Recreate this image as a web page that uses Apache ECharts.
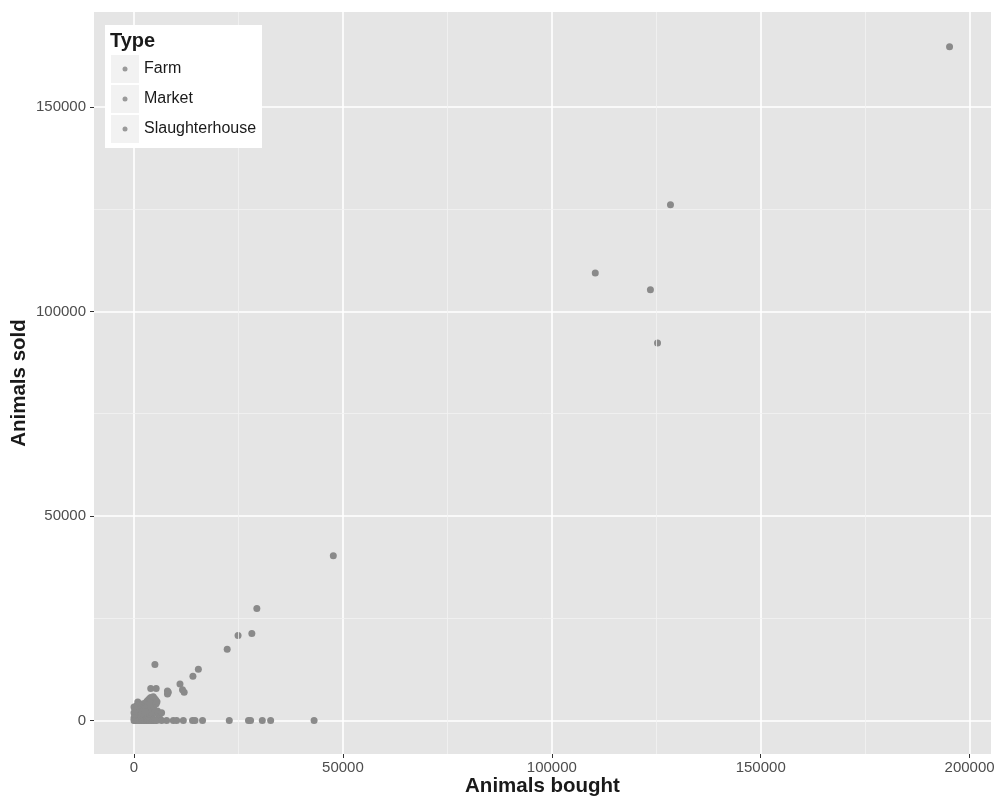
<!DOCTYPE html>
<html>
<head>
<meta charset="utf-8">
<script src="https://cdn.jsdelivr.net/npm/echarts@6/dist/echarts.min.js"></script>
<style>
html,body{margin:0;padding:0;background:#fff;}
#chart{width:999px;height:800px;}
</style>
</head>
<body>
<div id="chart"></div>
<script>
// ---- data ----
const legendTitle = 'Type';
const seriesNames = ['Farm', 'Market', 'Slaughterhouse'];
// [animals bought, animals sold]
const farmPoints = [
  [100,300],[300,800],[150,1500],[400,2200],[200,2900],[600,3600],[900,4500],[1200,3900],
  [500,1200],[800,600],[1000,1700],[1300,2500],[1600,3100],[1900,3600],[2200,4100],[2500,3700],
  [2800,4300],[3100,4700],[3400,5000],[3700,5300],[4000,5600],[4300,5200],[4600,5800],[4900,5400],
  [5200,5000],[4500,4400],[3900,4200],[3300,3800],[2700,3000],[2100,2300],[1500,1400],[1100,900],
  [700,300],[1700,700],[2300,1100],[2900,1600],[3500,2300],[4100,2900],[4700,3500],[5300,4100],
  [5500,4600],[600,100],[1300,200],[2000,300],[2600,500],[3200,800],[3800,1100],[4400,1500],
  [5000,1900],[5600,2300],[5900,800],[6200,400],[2400,200],[3600,300],[4800,200],[1800,1800],
  [2600,2200],[350,2600],[0,3300],[0,1900],[0,600],[4000,7800],[5300,7800],[5000,13700],
  [8000,7200],[8000,6500],[8200,6900],[6600,1900],[11000,8900],[11600,7500],[12000,6900]
];
const marketPoints = [
  [195200,164700],[128400,126100],[110400,109400],[123600,105300],[125300,92300],
  [47700,40300],[29400,27400],[28200,21300],[24900,20800],[22300,17400],[15400,12500],[14100,10800]
];
const slaughterPoints = [
  [0,0],[200,0],[500,0],[800,0],[1100,0],[1400,0],[1800,0],[2200,0],[2600,0],[3000,0],
  [3400,0],[3800,0],[4200,0],[4600,0],[5000,0],[5400,0],[6600,0],[7800,0],[9400,0],[10200,0],
  [11800,0],[14000,0],[14600,0],[16400,0],[22800,0],[27400,0],[27900,0],[30700,0],[32700,0],[43100,0]
];
const xTicks = [0, 50000, 100000, 150000, 200000];
const yTicks = [0, 50000, 100000, 150000];
const xMinor = [25000, 75000, 125000, 175000];
const yMinor = [25000, 75000, 125000];
const xRange = [-9580, 205120];
const yRange = [-8190, 173220];

// ---- chart ----
const chart = echarts.init(document.getElementById('chart'), null, {renderer: 'canvas'});
const FONT = '"Liberation Sans", Arial, Helvetica, sans-serif';
const pointColor = '#8a8a8a';
const allSeriesData = [farmPoints, marketPoints, slaughterPoints];

function scatter(name, data) {
  return {
    name: name, type: 'scatter', data: data, symbolSize: 7, z: 3,
    itemStyle: {color: pointColor, opacity: 1},
    emphasis: {disabled: true}, animation: false
  };
}

const minorLines = [];
xMinor.forEach(v => minorLines.push({xAxis: v}));
yMinor.forEach(v => minorLines.push({yAxis: v}));

// legend drawn as graphic elements (ggplot-style keys)
const legendBox = {x: 105, y: 25, w: 157, h: 123};
const keyLeft = 111, keyTop = 55, keySize = 28, keyStep = 30;
const legendEls = [
  {type: 'rect', z: 10, shape: {x: legendBox.x, y: legendBox.y, width: legendBox.w, height: legendBox.h}, style: {fill: '#ffffff'}},
  {type: 'text', z: 11, x: 110, y: 41, style: {text: legendTitle, font: 'bold 20px ' + FONT, fill: '#1a1a1a', textVerticalAlign: 'middle'}}
];
seriesNames.forEach((n, i) => {
  const top = keyTop + i * keyStep;
  legendEls.push({type: 'rect', z: 11, shape: {x: keyLeft, y: top, width: keySize, height: keySize}, style: {fill: '#f2f2f2'}});
  legendEls.push({type: 'circle', z: 12, shape: {cx: keyLeft + keySize / 2, cy: top + keySize / 2, r: 2.5}, style: {fill: '#9a9a9a'}});
  legendEls.push({type: 'text', z: 12, x: 144, y: top + keySize / 2, style: {text: n, font: '16px ' + FONT, fill: '#1a1a1a', textVerticalAlign: 'middle'}});
});

const plainNum = v => String(v);

const option = {
  animation: false,
  backgroundColor: '#ffffff',
  textStyle: {fontFamily: FONT},
  grid: {
    left: 94, top: 12, width: 897, height: 742,
    show: true, backgroundColor: '#e5e5e5', borderWidth: 0,
    containLabel: false, outerBoundsMode: 'none'
  },
  graphic: {elements: legendEls},
  xAxis: {
    type: 'value', min: xRange[0], max: xRange[1],
    name: 'Animals bought', nameLocation: 'middle', nameGap: 22, nameMoveOverlap: false,
    nameTextStyle: {fontFamily: FONT, fontSize: 20.5, fontWeight: 'bold', color: '#1a1a1a'},
    axisLine: {show: false, onZero: false},
    axisTick: {show: true, length: 4, customValues: xTicks, lineStyle: {color: '#333333', width: 1}},
    axisLabel: {customValues: xTicks, formatter: plainNum, margin: 6, fontFamily: FONT, fontSize: 15, color: '#4d4d4d'},
    splitLine: {show: true, lineStyle: {color: '#ffffff', width: 1.6}}
  },
  yAxis: {
    type: 'value', min: yRange[0], max: yRange[1],
    name: 'Animals sold', nameLocation: 'middle', nameGap: 64, nameRotate: 90, nameMoveOverlap: false,
    nameTextStyle: {fontFamily: FONT, fontSize: 20.5, fontWeight: 'bold', color: '#1a1a1a'},
    axisLine: {show: false, onZero: false},
    axisTick: {show: true, length: 4, customValues: yTicks, lineStyle: {color: '#333333', width: 1}},
    axisLabel: {customValues: yTicks, formatter: plainNum, margin: 8, fontFamily: FONT, fontSize: 15, color: '#4d4d4d'},
    splitLine: {show: true, lineStyle: {color: '#ffffff', width: 1.6}}
  },
  series: [
    {
      name: 'gridMinor', type: 'scatter', data: [], z: 1, silent: true,
      markLine: {
        silent: true, symbol: 'none', animation: false,
        label: {show: false},
        lineStyle: {color: '#f2f2f2', width: 0.8, type: 'solid'},
        emphasis: {disabled: true},
        data: minorLines
      }
    }
  ].concat(seriesNames.map((n, i) => scatter(n, allSeriesData[i])))
};
chart.setOption(option);
</script>
</body>
</html>
